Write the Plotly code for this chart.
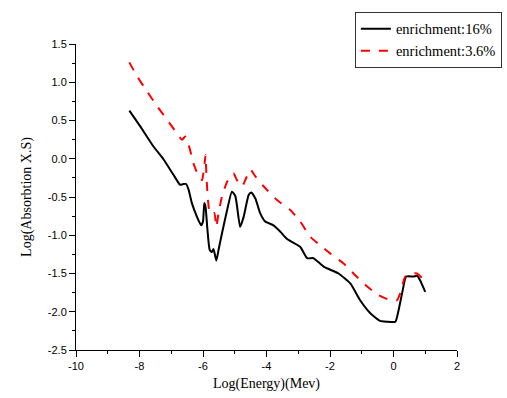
import plotly.graph_objects as go

# enrichment 16% (black solid)
x16 = [-8.32, -7.97, -7.56, -7.24, -6.93, -6.72, -6.61, -6.53, -6.45, -6.35, -6.19, -6.06, -6.00,
       -5.96, -5.92, -5.86, -5.79, -5.72, -5.67, -5.58, -5.51, -5.40, -5.24, -5.09, -4.98, -4.83,
       -4.72, -4.56, -4.48, -4.35, -4.20, -4.04, -3.78, -3.57, -3.35, -2.94, -2.72, -2.52, -2.20,
       -1.73, -1.36, -1.05, -0.73, -0.42, -0.21, 0.06, 0.16, 0.27, 0.40, 0.63, 0.74, 0.84, 1.00]
y16 = [0.63, 0.42, 0.16, -0.01, -0.21, -0.34, -0.33, -0.33, -0.41, -0.58, -0.76, -0.87, -0.82,
       -0.58, -0.63, -0.93, -1.19, -1.22, -1.18, -1.33, -1.19, -0.97, -0.67, -0.43, -0.49, -0.89,
       -0.76, -0.47, -0.44, -0.52, -0.71, -0.82, -0.87, -0.95, -1.05, -1.15, -1.30, -1.30, -1.41,
       -1.50, -1.63, -1.85, -2.02, -2.12, -2.13, -2.13, -1.98, -1.76, -1.54, -1.54, -1.53, -1.59, -1.74]

# enrichment 3.6% (red dashed)
x36 = [-8.32, -8.08, -7.76, -7.45, -7.13, -6.87, -6.66, -6.56, -6.45, -6.30, -6.14, -6.03, -5.96,
       -5.92, -5.90, -5.86, -5.79, -5.72, -5.64, -5.58, -5.51, -5.40, -5.24, -5.04, -4.93, -4.77,
       -4.67, -4.51, -4.35, -4.09, -3.67, -3.25, -2.94, -2.62, -2.31, -1.99, -1.57, -1.26, -0.83,
       -0.52, -0.10, 0.11, 0.21, 0.37, 0.58, 0.74, 0.90]
y36 = [1.26, 1.08, 0.88, 0.69, 0.51, 0.36, 0.25, 0.29, 0.18, -0.06, -0.23, -0.28, -0.10,
       0.05, -0.14, -0.45, -0.71, -0.73, -0.71, -0.89, -0.71, -0.49, -0.30, -0.19, -0.28, -0.36,
       -0.28, -0.14, -0.23, -0.36, -0.54, -0.67, -0.82, -1.02, -1.13, -1.24, -1.37, -1.50, -1.67,
       -1.77, -1.85, -1.85, -1.76, -1.54, -1.50, -1.50, -1.56]

# tick labels (hyphen minus as in the original)
x_tickvals = [-10, -8, -6, -4, -2, 0, 2]
x_ticktext = ["-10", "-8", "-6", "-4", "-2", "0", "2"]
y_tickvals = [-2.5, -2.0, -1.5, -1.0, -0.5, 0.0, 0.5, 1.0, 1.5]
y_ticktext = ["-2.5", "-2.0", "-1.5", "-1.0", "-0.5", "0.0", "0.5", "1.0", "1.5"]

fig = go.Figure()
fig.add_trace(go.Scatter(x=x16, y=y16, mode="lines", name="enrichment:16%",
                         line=dict(color="black", width=2, shape="spline", smoothing=0.5)))
fig.add_trace(go.Scatter(x=x36, y=y36, mode="lines", name="enrichment:3.6%",
                         line=dict(color="red", width=2, dash="dash", shape="spline", smoothing=0.5)))

axis_common = dict(showgrid=False, zeroline=False, showline=True, linecolor="black", linewidth=1,
                   ticks="outside", ticklen=6, tickcolor="black", tickwidth=1,
                   tickfont=dict(family="Liberation Sans", size=11, color="black"),
                   mirror=False)

fig.update_xaxes(range=[-10, 2], tickvals=x_tickvals, ticktext=x_ticktext,
                 minor=dict(dtick=1, tick0=-10, ticks="outside", ticklen=3, tickcolor="black"),
                 title=dict(text="Log(Energy)(Mev)", font=dict(family="Liberation Serif", size=14, color="black"),
                            standoff=6),
                 **axis_common)
fig.update_yaxes(range=[-2.5, 1.5], tickvals=y_tickvals, ticktext=y_ticktext,
                 minor=dict(dtick=0.25, tick0=-2.5, ticks="outside", ticklen=3, tickcolor="black"),
                 title=dict(text="Log(Absorbtion X.S)", font=dict(family="Liberation Serif", size=14, color="black"),
                            standoff=12),
                 **axis_common)

fig.update_layout(
    width=507, height=398,
    margin=dict(l=76, r=50, t=44, b=48, autoexpand=False),
    paper_bgcolor="white", plot_bgcolor="white",
    legend=dict(x=0.732, y=1.105, xanchor="left", yanchor="top",
                bordercolor="#333333", borderwidth=1, bgcolor="white",
                font=dict(family="Liberation Serif", size=14.5, color="black"),
                tracegroupgap=0, itemwidth=30),
)

fig.write_html("out.html")
